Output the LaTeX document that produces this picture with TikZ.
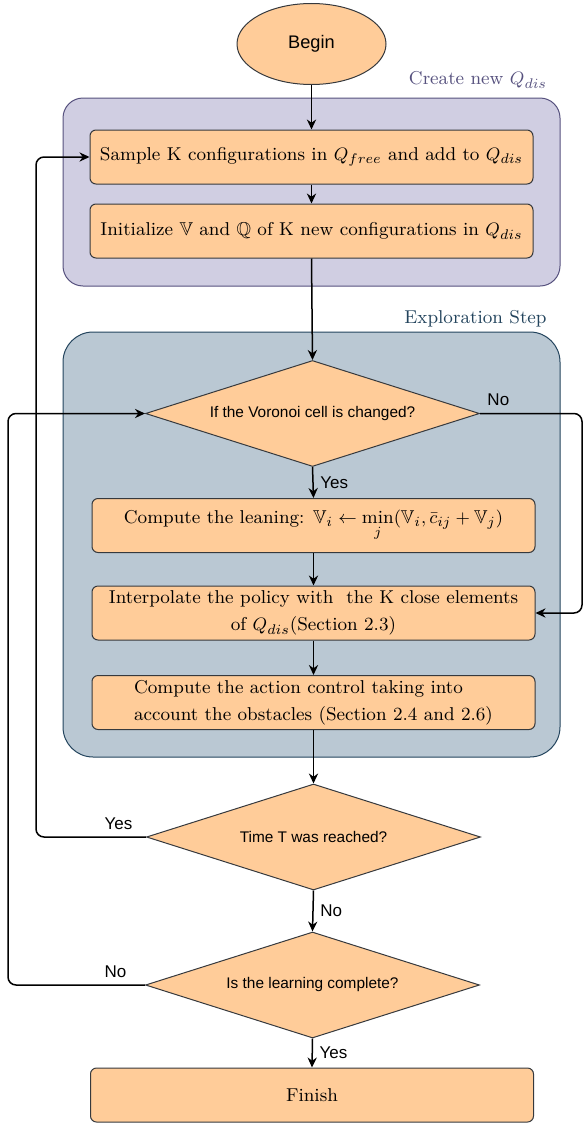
\documentclass[tikz,border=0pt]{standalone}
\usepackage{amssymb}
\usepackage{fontspec}
\newfontfamily\arialf{Liberation Sans}
\usetikzlibrary{arrows.meta,shapes.geometric}

\definecolor{boxfill}{HTML}{FFCC99}
\definecolor{boxline}{HTML}{36393D}
\definecolor{grpAfill}{HTML}{D0CEE2}
\definecolor{grpAline}{HTML}{56517E}
\definecolor{grpBfill}{HTML}{BAC8D3}
\definecolor{grpBline}{HTML}{23445D}

\begin{document}
\begin{tikzpicture}[
  x=0.5pt,y=-0.5pt,
  >={Stealth[length=5pt,width=4.6pt]},
  every node/.style={font=\fontsize{9.3}{13.5}\selectfont},
  proc/.style={draw=boxline,fill=boxfill,line width=0.5pt,rounded corners=3pt,
    minimum width=221.5pt,minimum height=27pt,inner sep=2pt},
  ask/.style={diamond,draw=boxline,fill=boxfill,line width=0.5pt,aspect=3.15,inner sep=0pt,
    minimum width=167pt,minimum height=53pt,font=\arialf\fontsize{7.7}{9}\selectfont},
  lbl/.style={font=\arialf\fontsize{8.5}{10}\selectfont},
  flow/.style={->,line width=0.75pt},
  loop/.style={->,line width=0.75pt,rounded corners=4pt}
]
\useasboundingbox (0,0) rectangle (584,1124);
\draw[draw=grpAline,fill=grpAfill,line width=0.5pt,rounded corners=10pt] (63,98) rectangle (560,286);
\draw[draw=grpBline,fill=grpBfill,line width=0.5pt,rounded corners=15pt] (63,332) rectangle (560,757);
\node[text=grpAline] (titA) at (478,80) {Create new $Q_{dis}$};
\node[text=grpBline] (titB) at (475.5,319) {Exploration Step};

\node[ellipse,draw=boxline,fill=boxfill,line width=0.5pt,minimum width=74.5pt,minimum height=40.5pt,
  font=\arialf\fontsize{9.1}{11}\selectfont] (begin) at (311.5,44) {Begin};
\node[proc] (sample) at (311.5,157) {Sample K configurations in $Q_{free}$ and add to $Q_{dis}$};
\node[proc] (init) at (311.5,231) {Initialize $\mathbb{V}$ and $\mathbb{Q}$ of K new configurations in $Q_{dis}$};
\node[ask] (cell) at (312.5,413.5) {If the Voronoi cell is changed?};
\node[proc] (learn) at (313.5,525.5) {Compute the leaning: $\mathbb{V}_i \leftarrow \min\limits_j(\mathbb{V}_i,\bar{c}_{ij}+\mathbb{V}_j)$};
\node[proc,align=center] (interp) at (313.5,613) {Interpolate the policy with\ \ the K close elements\\ of $Q_{dis}$(Section 2.3)};
\node[proc,align=left] (action) at (313.5,702.5) {Compute the action control taking into\\ account the obstacles (Section 2.4 and 2.6)};
\node[ask] (timeT) at (313.5,837) {Time T was reached?};
\node[ask] (done) at (312.5,985) {Is the learning complete?};
\node[proc] (finish) at (312,1095) {Finish};

\coordinate (loopA) at (36,0);
\coordinate (loopB) at (8,0);
\coordinate (loopC) at (582,0);

\draw[flow] (begin) -- (sample);
\draw[flow] (sample) -- (init);
\draw[flow] (init.south) -- (cell.north);
\draw[flow] (cell.south) -- node[lbl,right] {Yes} (learn.north);
\draw[flow] (learn) -- (interp);
\draw[flow] (interp) -- (action);
\draw[flow] (action.south) -- (timeT.north);
\draw[flow] (timeT.south) -- node[lbl,right] {No} (done.north);
\draw[flow] (done.south) -- node[lbl,right] {Yes} (finish.north);
\draw[loop] (timeT.west) -- node[lbl,above,pos=0.25] {Yes} (timeT.west -| loopA) |- (sample.west);
\draw[loop] (done.west) -- node[lbl,above,pos=0.215] {No} (done.west -| loopB) |- (cell.west);
\draw[loop] (cell.east) -- node[lbl,above,pos=0.18] {No} (cell.east -| loopC) |- (interp.east);
\end{tikzpicture}
\end{document}
